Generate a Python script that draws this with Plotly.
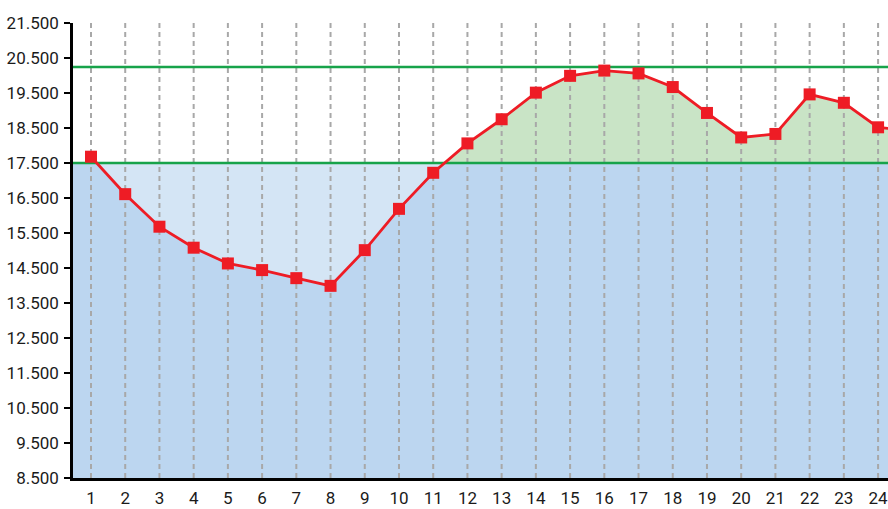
import plotly.graph_objects as go

categories = list(range(1, 26))
values = [17680, 16610, 15680, 15080, 14630, 14440, 14210, 13990, 15010, 16190,
          17220, 18060, 18750, 19510, 19990, 20140, 20060, 19670, 18930, 18230,
          18330, 19460, 19220, 18520, 18420]
lower_limit = 17500
upper_limit = 20240
y_ticks = list(range(8500, 21501, 1000))

X_MIN, X_MAX = 0.474, 24.29

# split geometry at threshold crossings
xs, ys = [], []
for i in range(len(categories)):
    if i > 0:
        y0, y1 = values[i - 1], values[i]
        if (y0 - lower_limit) * (y1 - lower_limit) < 0:
            t = (lower_limit - y0) / (y1 - y0)
            xs.append(categories[i - 1] + t)
            ys.append(lower_limit)
    xs.append(categories[i])
    ys.append(values[i])
lo = [min(v, lower_limit) for v in ys]
hi = [max(v, lower_limit) for v in ys]

fig = go.Figure()
fig.add_shape(type="rect", xref="paper", x0=0, x1=1, y0=8500, y1=lower_limit,
              fillcolor="#bcd6f0", line_width=0, layer="below")
fig.add_trace(go.Scatter(x=xs, y=lo, mode="lines", line=dict(width=0),
                         hoverinfo="skip", showlegend=False))
fig.add_trace(go.Scatter(x=xs, y=[lower_limit] * len(xs), mode="lines", line=dict(width=0),
                         fill="tonexty", fillcolor="#d4e5f5", hoverinfo="skip", showlegend=False))
fig.add_trace(go.Scatter(x=xs, y=hi, mode="lines", line=dict(width=0),
                         fill="tonexty", fillcolor="#c9e4c6", hoverinfo="skip", showlegend=False))

# vertical dashed grid
gx, gy = [], []
for c in categories:
    gx += [c, c, None]
    gy += [8500, 21500, None]
fig.add_trace(go.Scatter(x=gx, y=gy, mode="lines",
                         line=dict(color="#a8a8a8", width=2, dash="5px,4px"),
                         hoverinfo="skip", showlegend=False))

for lim in (lower_limit, upper_limit):
    fig.add_trace(go.Scatter(x=[X_MIN - 1, X_MAX + 1], y=[lim, lim], mode="lines",
                             line=dict(color="#17a34a", width=2.5),
                             hoverinfo="skip", showlegend=False))

fig.add_trace(go.Scatter(x=categories, y=values, mode="lines+markers",
                         line=dict(color="#ee1c25", width=2.8),
                         marker=dict(symbol="square", size=12, color="#ee1c25"),
                         showlegend=False))

font_family = "Roboto, sans-serif"
fig.update_layout(
    width=888, height=509,
    margin=dict(l=73, r=0, t=23, b=31),
    paper_bgcolor="white", plot_bgcolor="white",
    separators=",.",
    font=dict(family=font_family, size=17, color="#1a1a1a"),
    xaxis=dict(range=[X_MIN, X_MAX], tickmode="array", tickvals=categories[:24],
               ticktext=[str(c) for c in categories[:24]], showgrid=False, zeroline=False,
               showline=True, linecolor="black", linewidth=2.5, ticks="",
               automargin=False, ticklabelstandoff=3, ticklabeloverflow="allow",
               tickfont=dict(size=17)),
    yaxis=dict(range=[8500, 21500], tickmode="array", tickvals=y_ticks,
               tickformat=",d", showgrid=False, zeroline=False,
               showline=True, linecolor="black", linewidth=2.5,
               ticks="outside", ticklen=6, tickwidth=2, tickcolor="black",
               automargin=False, ticklabelstandoff=2),
)
fig.write_html(
    "out.html",
    config={"displayModeBar": False},
    post_script="document.body.style.margin='0';"
                "document.documentElement.style.overflow='hidden';"
                "document.body.style.overflow='hidden';",
)
